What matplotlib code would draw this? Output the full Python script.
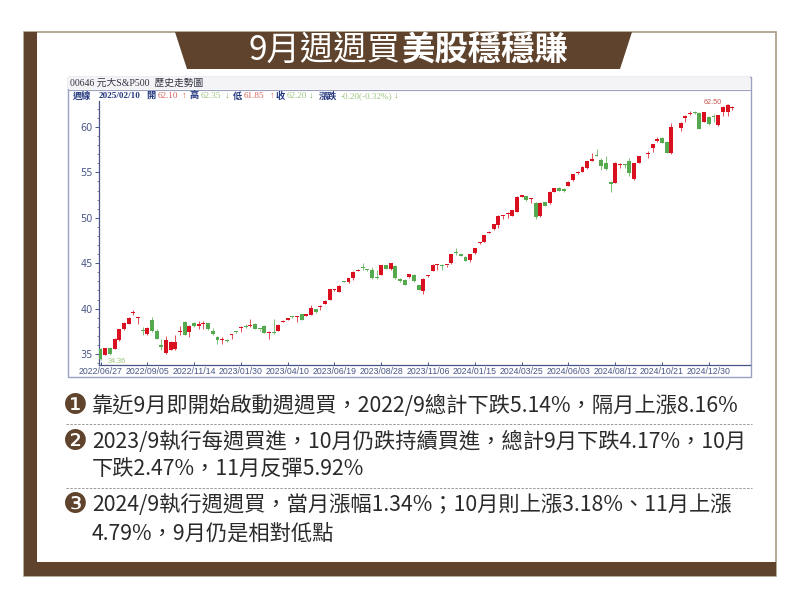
import matplotlib
matplotlib.use("Agg")
import matplotlib.pyplot as plt
from matplotlib.patches import Polygon, Rectangle

CJK = ['Noto Sans CJK TC', 'DejaVu Sans']
SERIF = ['Liberation Serif', 'Noto Sans CJK TC']

opens = [35.6,34.93,35.7,35.6,36.5,37.7,38.3,39.5,38.95,37.6,37.2,38.75,37.5,35.95,35.1,35.45,35.5,37.4,38.55,37.4,
         38.4,38.1,38.3,38.4,37.5,36.9,36.55,36.5,37.1,37.5,37.9,38.05,38.1,38.35,37.75,38.1,37.35,37.4,37.55,38.55,
         38.8,39.1,39.05,39.4,39.2,39.3,39.95,40.15,40.55,41.0,42.0,41.85,43.0,42.9,43.35,44.15,44.55,44.25,44.2,43.45,
         43.7,44.8,44.35,44.7,43.3,43.2,43.45,43.75,42.6,41.9,43.6,44.15,44.8,44.8,44.75,45.0,46.15,46.0,45.7,45.3,
         46.1,47.2,47.35,48.35,48.73,49.2,50.16,50.41,50.2,50.63,52.32,52.4,52.03,51.66,50.2,51.7,51.59,52.84,53.28,53.17,
         53.5,54.16,54.9,55.08,55.44,56.25,56.95,56.4,56.03,53.97,53.86,55.81,55.92,56.29,54.27,56.07,None,57.02,57.68,58.49,
         58.82,58.38,57.1,None,59.92,60.99,61.39,61.65,61.5,60.55,61.13,61.13,60.22,61.65,61.65,62.10]
closes = [34.5,35.66,35.0,36.7,37.7,38.45,39.0,39.6,39.05,37.5,37.9,37.5,36.7,35.8,36.5,36.3,36.3,37.5,37.1,38.1,
          38.05,38.35,38.4,37.7,37.2,36.5,36.6,36.4,37.2,37.45,38.0,38.0,38.2,37.8,37.7,37.35,37.45,37.35,38.2,38.65,
          38.9,39.05,39.15,38.75,39.4,40.1,39.6,40.3,40.85,42.15,42.1,42.5,42.95,43.35,44.05,44.25,44.5,44.2,43.35,43.4,
          44.8,44.4,45.0,43.35,43.0,42.65,43.8,43.0,42.05,43.3,43.7,44.85,44.85,44.7,44.8,46.0,46.1,45.8,45.25,46.0,
          46.65,47.3,48.05,48.45,49.31,50.23,50.23,50.52,50.85,52.32,52.5,51.96,52.14,50.12,51.66,51.33,52.84,53.24,52.98,52.95,
          53.97,54.78,55.04,55.55,56.21,56.47,56.8,55.7,55.33,53.72,56.07,55.92,55.85,54.89,55.99,56.8,None,57.1,58.12,58.64,
          58.27,57.17,59.96,None,60.47,61.24,61.5,61.57,59.81,61.65,60.29,61.06,61.28,62.23,62.38,62.20]
highs = [35.7,35.7,35.75,36.75,37.75,38.5,39.05,39.8,39.1,38.0,38.0,39.05,37.7,36.7,37.0,36.4,37.05,38.1,38.6,38.2,
         38.5,38.65,38.6,38.45,37.9,37.0,36.85,36.6,37.25,37.55,38.05,38.3,38.85,38.4,37.8,38.2,37.5,38.9,38.25,38.7,
         38.95,39.2,39.2,39.45,39.45,40.4,40.0,40.35,40.9,42.2,42.15,42.55,43.05,43.4,44.1,44.4,45.05,44.4,44.55,44.2,
         44.85,44.85,45.05,44.75,43.35,43.25,43.85,43.8,42.65,43.35,43.75,44.9,44.9,44.9,44.85,46.05,46.65,46.05,45.75,46.05,
         46.7,47.35,48.1,48.5,49.35,50.3,50.3,50.6,50.9,52.35,52.55,52.45,52.2,51.7,51.7,51.75,52.9,53.3,53.4,53.25,
         54.0,54.85,55.1,55.7,56.3,57.17,57.6,56.55,56.8,54.05,56.1,56.0,55.95,56.55,56.05,56.85,None,57.39,58.15,58.93,
         58.85,58.45,60.4,None,60.5,61.3,61.8,61.8,61.6,61.7,61.2,61.4,61.35,62.3,62.5,62.35]
lows = [34.36,34.85,34.9,35.5,36.45,37.65,38.25,39.3,38.35,37.05,37.1,37.4,36.6,35.4,35.05,35.4,35.45,37.1,37.05,36.9,
        38.0,37.7,37.75,37.65,37.1,36.1,36.05,36.3,36.7,37.3,37.4,37.85,38.0,37.75,37.5,37.3,36.6,37.25,37.5,38.5,
        38.75,39.0,38.5,38.7,39.15,39.25,39.55,39.8,40.5,40.95,41.9,41.8,42.9,42.85,43.2,44.1,44.2,44.1,43.3,43.3,
        43.65,44.35,44.3,43.3,42.95,42.6,43.4,42.95,42.0,41.65,43.5,44.1,44.3,44.2,44.6,44.95,45.95,45.75,45.2,45.1,
        46.05,47.15,47.3,48.3,48.7,48.9,49.85,49.95,50.15,50.6,52.25,51.9,51.6,49.85,50.1,51.25,51.55,52.8,52.9,52.85,
        53.45,54.1,54.85,55.0,55.4,56.2,56.75,55.26,55.3,52.87,53.8,55.44,55.44,54.6,54.2,56.0,None,56.58,57.24,58.4,
        58.2,57.1,57.05,None,59.59,60.5,61.35,61.4,59.75,60.5,60.25,60.6,60.15,61.2,61.2,61.85]
tick_labels = ['2022/06/27','2022/09/05','2022/11/14','2023/01/30','2023/04/10','2023/06/19','2023/08/28',
               '2023/11/06','2024/01/15','2024/03/25','2024/06/03','2024/08/12','2024/10/21','2024/12/30']
title_light = '9月週週買'
title_bold = '美股穩穩賺'
body_lines = ['靠近9月即開始啟動週週買，2022/9總計下跌5.14%，隔月上漲8.16%',
              '2023/9執行每週買進，10月仍跌持續買進，總計9月下跌4.17%，10月',
              '下跌2.47%，11月反彈5.92%',
              '2024/9執行週週買，當月漲幅1.34%；10月則上漲3.18%、11月上漲',
              '4.79%，9月仍是相對低點']

W, H = 800, 599
BROWN = '#5f432c'
RED = '#d8101f'
GREEN = '#55aa50'
AXC = '#4a5688'

fig = plt.figure(figsize=(8.0, 5.99), dpi=100, facecolor='white')

bg = fig.add_axes([0, 0, 1, 1], zorder=0)
bg.set_xlim(0, W); bg.set_ylim(H, 0); bg.axis('off')
bg.add_patch(Rectangle((24, 32), 752, 544, fc='white', ec='#a59c85', lw=1.2))
bg.add_patch(Rectangle((24, 32), 13, 544, fc=BROWN, ec='none'))
bg.add_patch(Rectangle((24, 562), 752, 14, fc=BROWN, ec='none'))
bg.add_patch(Polygon([(175, 32), (632, 32), (620, 69), (187, 69)], fc=BROWN, ec='none'))
bg.text(401, 50.5, title_light, family=CJK, fontsize=24, color='white', ha='right', va='center', weight='light')
bg.text(401, 50.5, title_bold, family=CJK, fontsize=24, color='white', ha='left', va='center', weight='bold')

bg.add_patch(Rectangle((67.5, 76.5), 683, 300, fc='white', ec='#9aa0c0', lw=1.0))
bg.add_patch(Rectangle((68, 77), 682, 12, fc='#f4f4f6', ec='none'))
bg.plot([68, 750], [89.5, 89.5], color='#9aa0c0', lw=0.8)
bg.text(70, 83, '00646 元大S&P500  歷史走勢圖', family=SERIF, fontsize=7, color='#333344', va='center')
header = [(73, '週線', '#24377f', 'bold'), (99, '2025/02/10', '#24377f', 'bold'), (146, '開', '#24377f', 'bold'),
          (158, '62.10', '#d9605a', 'normal'), (182, '↑', '#d9605a', 'normal'), (190, '高', '#24377f', 'bold'),
          (201, '62.35', '#9cc47e', 'normal'), (225, '↓', '#7fae60', 'normal'), (233, '低', '#24377f', 'bold'),
          (244, '61.85', '#d9605a', 'normal'), (270, '↑', '#d9605a', 'normal'), (276, '收', '#24377f', 'bold'),
          (287, '62.20', '#9cc47e', 'normal'), (309, '↓', '#7fae60', 'normal'), (319, '漲跌', '#24377f', 'bold'),
          (341, '-0.20(-0.32%)', '#9cc47e', 'normal'), (394, '↓', '#7fae60', 'normal')]
for xp, s, c, w in header:
    bg.text(xp, 96, s, family=SERIF, fontsize=6.6, color=c, weight=w, va='center')

for yp in (423.5, 487.5):
    bg.plot([66, 752], [yp, yp], color='#999999', lw=0.7, ls=(0, (2.5, 1.5)))
for yp, s in ((406, '❶'), (442, '❷'), (505, '❸')):
    bg.text(75, yp, s, family=['DejaVu Sans'], fontsize=20, color=BROWN, ha='center', va='center')
for yp, s in zip((406, 441.5, 469, 505, 533.5), body_lines):
    bg.text(92, yp, s, family=CJK, fontsize=15.3, color='#2a2a2a', va='center')

L, R, T, B = 98.5, 750.0, 101.0, 365.0
ax = fig.add_axes([L / W, 1 - B / H, (R - L) / W, (B - T) / H], zorder=1)
ax.patch.set_alpha(0)
ax.set_xlim(-0.43, 138.8)
ax.set_ylim(33.79, 62.86)
for s in ('top', 'right'):
    ax.spines[s].set_visible(False)
for s in ('left', 'bottom'):
    ax.spines[s].set_color(AXC)
    ax.spines[s].set_linewidth(0.9)

for i, (o, c, h, l) in enumerate(zip(opens, closes, highs, lows)):
    if o is None:
        continue
    col = RED if c >= o else GREEN
    ax.vlines(i, l, h, color=col, lw=0.7, alpha=0.75, zorder=2)
    ax.bar(i, max(abs(c - o), 0.12), bottom=min(o, c), width=0.84, color=col, zorder=3)

ax.set_xticks(range(0, 140, 10))
ax.set_xticklabels(tick_labels, family='Liberation Sans', fontsize=6.3, color=AXC)
ax.tick_params(axis='x', direction='in', length=2, width=0.7, color=AXC, pad=1.5)
ax.set_yticks([35, 40, 45, 50, 55, 60])
ax.set_yticks(range(34, 63), minor=True)
ax.tick_params(axis='y', which='major', length=3, width=0.7, color=AXC, labelsize=7, labelcolor=AXC, pad=1)
ax.tick_params(axis='y', which='minor', length=1.5, width=0.5, color=AXC)
ax.annotate('62.50', xy=(134, 62.5), xytext=(128.8, 62.65), fontsize=5.2, color='#c9534e',
            family='Liberation Sans', va='center',
            arrowprops=dict(arrowstyle='-', color='#c9534e', lw=0.4))
ax.annotate('34.36', xy=(0, 34.36), xytext=(1.6, 34.2), fontsize=5.2, color='#9cc47e',
            family='Liberation Sans', va='center',
            arrowprops=dict(arrowstyle='-', color='#9cc47e', lw=0.4))

fig.savefig('out.png', dpi=100)
